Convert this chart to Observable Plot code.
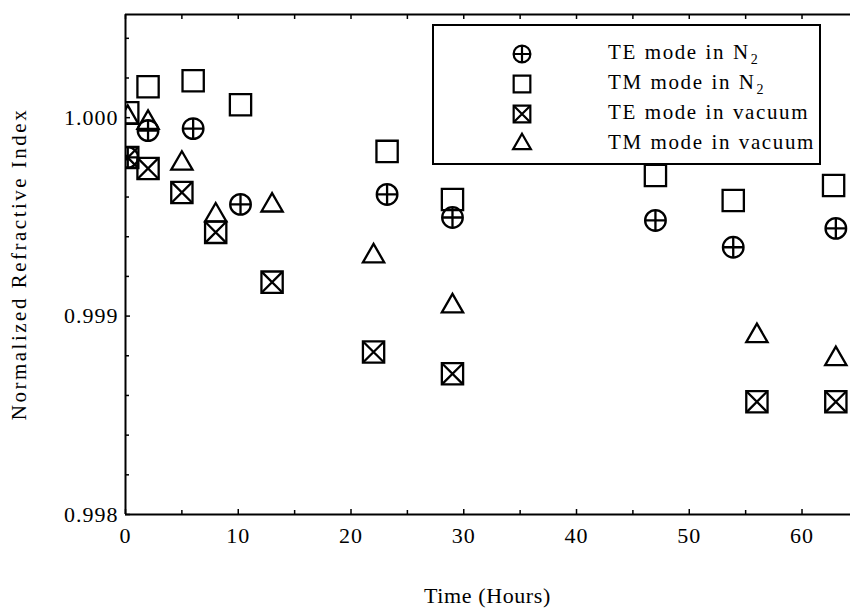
<!DOCTYPE html>
<html>
<head>
<meta charset="utf-8">
<script src="https://cdn.jsdelivr.net/npm/d3@7"></script>
<script src="https://cdn.jsdelivr.net/npm/@observablehq/plot@0.6"></script>
<style>
  html, body { margin: 0; padding: 0; background: #fff; }
  #wrap { position: relative; width: 850px; height: 609px; font-family: "Liberation Serif", "Times New Roman", serif; color: #000; }
  #chart svg { font-family: "Liberation Serif", "Times New Roman", serif; }
  .title { position: absolute; white-space: nowrap; }
  #xlabel { left: 0; width: 975px; top: 583px; text-align: center; font-size: 22px; letter-spacing: 0.6px; }
  #ylabel { left: 19px; top: 264px; transform: translate(-50%, -50%) rotate(-90deg); font-size: 21px; letter-spacing: 2.5px; }
  #legend { position: absolute; left: 432px; top: 24px; width: 385px; height: 137px; border: 2px solid #000; background: #fff; box-sizing: content-box; }
  .row { position: absolute; left: 0; height: 30px; width: 100%; }
  .row svg { position: absolute; left: 73px; top: 0; }
  .row span { position: absolute; left: 174px; top: 1px; font-size: 21px; letter-spacing: 1.6px; word-spacing: 1px; white-space: nowrap; }
  .row sub { font-size: 14px; position: relative; top: 5px; vertical-align: baseline; margin-left: 1px; }
</style>
</head>
<body>
<div id="wrap">
  <div id="chart"></div>
  <div id="legend"></div>
  <div class="title" id="xlabel">Time (Hours)</div>
  <div class="title" id="ylabel">Normalized Refractive Index</div>
</div>
<script>
// ---- data ----
const teN2Time = [0.2, 2, 6, 10.2, 23.2, 29, 47, 53.9, 63];
const teN2Index = [0.99980, 0.999935, 0.999945, 0.999563, 0.999613, 0.999497, 0.999482, 0.999347, 0.999442];

const tmN2Time = [0.2, 2, 6, 10.2, 23.2, 29, 47, 53.9, 62.8];
const tmN2Index = [1.000025, 1.000156, 1.000186, 1.000065, 0.999830, 0.999588, 0.999709, 0.999583, 0.999658];

const teVacTime = [0.2, 2, 5, 8, 13, 22, 29, 56, 63];
const teVacIndex = [0.999799, 0.999744, 0.999623, 0.999422, 0.999171, 0.998819, 0.998709, 0.998568, 0.998568];

const tmVacTime = [0.2, 2, 5, 8, 13, 22, 29, 56, 63];
const tmVacIndex = [1.000000, 0.999975, 0.999769, 0.999508, 0.999558, 0.999302, 0.999050, 0.998900, 0.998784];

const seriesNames = ["TE mode in N", "TM mode in N", "TE mode in vacuum", "TM mode in vacuum"];
const seriesSubs = ["2", "2", "", ""];

const xDomain = [0, 64.3];
const yDomain = [0.998, 1.00052];
const xMajor = [0, 10, 20, 30, 40, 50, 60];
const xMinor = [5, 15, 25, 35, 45, 55];
const yMajor = [0.998, 0.999, 1.000];
const yMinor = [0.9982, 0.9984, 0.9986, 0.9988, 0.9992, 0.9994, 0.9996, 0.9998, 1.0002, 1.0004];

const rows = (t, v) => t.map((d, i) => ({t: d, v: v[i]}));
const teN2 = rows(teN2Time, teN2Index);
const tmN2 = rows(tmN2Time, tmN2Index);
const teVac = rows(teVacTime, teVacIndex);
const tmVac = rows(tmVacTime, tmVacIndex);

const sw = 2.3;
const dotOpts = (sym, r) => ({x: "t", y: "v", symbol: sym, r, stroke: "#000", strokeWidth: sw, fill: "none", clip: true});

const chart = Plot.plot({
  width: 850,
  height: 609,
  marginLeft: 125,
  marginRight: 0,
  marginTop: 14,
  marginBottom: 95,
  style: {fontSize: "22px", fontFamily: "Liberation Serif, serif", color: "#000", background: "#fff", letterSpacing: "1px"},
  x: {domain: xDomain, label: null},
  y: {domain: yDomain, label: null},
  marks: [
    Plot.ruleX([xDomain[0]], {stroke: "#000", strokeWidth: 2}),
    Plot.ruleY([yDomain[0]], {stroke: "#000", strokeWidth: 2}),
    Plot.ruleY([yDomain[1]], {stroke: "#000", strokeWidth: 2}),
    Plot.axisY({ticks: yMajor, tickSize: -5, tickPadding: 12, fontSize: 22, tickFormat: d3.format(".3f"), strokeWidth: 1.5, label: null}),
    Plot.axisY({ticks: yMinor, tickSize: -4, tickFormat: () => "", strokeWidth: 1.5, label: null}),
    Plot.axisX({ticks: xMajor, tickSize: -5, tickPadding: 18, fontSize: 22, tickFormat: d3.format("d"), strokeWidth: 1.5, label: null}),
    Plot.axisX({ticks: xMinor, tickSize: -4, tickFormat: () => "", strokeWidth: 1.5, label: null}),
    Plot.axisX({anchor: "top", ticks: xMajor.concat(xMinor), tickSize: -4, tickFormat: () => "", strokeWidth: 1.5, label: null}),
    // TE mode in N2: circle with plus
    Plot.dot(teN2, dotOpts("circle", 10.3)),
    Plot.dot(teN2, dotOpts("plus", 6.7)),
    // TM mode in N2: square
    Plot.dot(tmN2, dotOpts("square", 12)),
    // TE mode in vacuum: square with X
    Plot.dot(teVac, dotOpts("square", 12)),
    Plot.dot(teVac, dotOpts("times", 9.2)),
    // TM mode in vacuum: triangle
    Plot.dot(tmVac, dotOpts("triangle", 7.9))
  ]
});
document.getElementById("chart").appendChild(chart);

// ---- legend ----
const legend = document.getElementById("legend");
const legendSymbols = [["circle", "plus"], ["square"], ["square", "times"], ["triangle"]];
const symbolMap = {circle: d3.symbolCircle, plus: d3.symbolPlus, square: d3.symbolSquare, times: d3.symbolTimes, triangle: d3.symbolTriangle};
const legendSize = {circle: Math.PI * 8.4 * 8.4, plus: Math.PI * 5.5 * 5.5, square: Math.PI * 9.4 * 9.4, times: Math.PI * 7.4 * 7.4, triangle: Math.PI * 6.6 * 6.6};
const rowTops = [13, 43, 73, 103];
seriesNames.forEach((name, i) => {
  const row = document.createElement("div");
  row.className = "row";
  row.style.top = rowTops[i] + "px";
  const paths = legendSymbols[i].map(s => `<path d="${d3.symbol(symbolMap[s], legendSize[s])()}" fill="none" stroke="#000" stroke-width="2.2"/>`).join("");
  row.innerHTML = `<svg width="30" height="30" viewBox="-15 -15 30 30">${paths}</svg><span>${name}${seriesSubs[i] ? `<sub>${seriesSubs[i]}</sub>` : ""}</span>`;
  legend.appendChild(row);
});
</script>
</body>
</html>
